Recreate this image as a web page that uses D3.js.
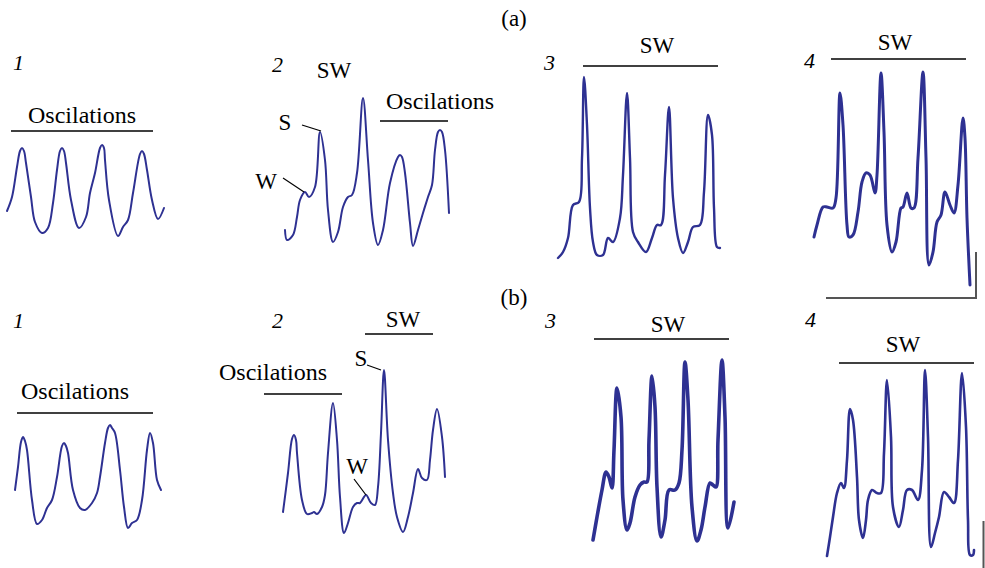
<!DOCTYPE html>
<html><head><meta charset="utf-8">
<script src="https://cdn.jsdelivr.net/npm/d3@7"></script>
<style>
body{margin:0;background:#fff}
svg{display:block}
text{font-family:"Liberation Serif","Times New Roman",serif;fill:#000}
</style>
</head><body>
<svg id="c" width="985" height="568"></svg>
<script>
// ---- Data: time (arbitrary units) and amplitude (arbitrary units) for each trace ----
const a1T=[7,12,17,20,22,24,26,31,35,42,48,53,57,60,62,64,66,71,79,86,90,95,100,102,104,105,109,118,123,128,133,140,142,144,147,152,158,164];
const a1V=[29,43,73,89,92,89,77,43,18,7,12,37,70,89,92,89,77,40,12,23,47,67,92,95,92,80,40,4,13,20,47,86,89,86,70,40,21,32];

const a2T=[5,7,13,17,20,25,29,35,40,45,48,53,58,63,68,72,77,83,88,93,98,103,110,118,120,122,125,130,133,138,143,148,152,155,158,160,162,165,169];
const a2V=[20,10,15,33,50,58,53,63,118,90,40,8,18,43,53,55,77,152,90,27,5,20,67,93,95,93,77,27,4,20,37,53,65,100,118,120,118,100,37];

const a3T=[3,8,13,18,24,27,29,32,35,38,42,48,53,58,65,68,72,75,78,83,91,97,102,106,110,114,118,123,128,133,138,145,149,153,157,159,162,165];
const a3V=[2,8,22,55,58,102,183,135,52,18,5,5,22,18,42,85,167,102,28,18,8,22,35,35,85,153,62,22,7,18,33,35,68,145,125,52,13,12];

const a4T=[4,7,13,17,23,26,30,33,37,39,43,48,52,56,60,65,67,71,74,77,82,86,91,93,97,101,104,108,113,116,119,123,127,131,135,140,144,148,153,155,157,160];
const a4V=[53,65,83,83,82,92,197,165,65,53,55,78,108,117,115,97,115,217,158,65,38,48,82,83,97,82,82,132,218,132,25,38,68,75,98,85,77,105,172,152,72,5];

const b1T=[5,8,11,13,15,17,22,27,32,37,42,47,52,54,56,58,63,70,75,82,87,90,95,98,100,102,105,110,114,118,122,127,132,137,140,143,147,151];
const b1V=[50,73,98,103,99,90,40,16,20,32,40,63,94,97,94,87,50,32,30,37,47,63,97,112,115,112,107,70,33,12,17,20,40,90,107,97,60,50];

const b2T=[3,8,12,14,16,17,22,27,32,34,37,42,45,48,53,57,60,64,68,73,77,80,86,91,95,98,101,104,108,113,117,123,128,133,138,142,147,150,153,157,162,165];
const b2V=[28,67,101,105,100,87,40,26,27,28,26,33,45,87,137,100,43,7,17,33,37,37,45,37,35,53,107,170,100,47,23,8,23,47,71,62,60,80,110,131,103,63];

const b3T=[3,7,12,16,19,22,24,27,31,33,37,40,45,50,54,57,59,62,65,67,71,75,79,85,89,92,95,98,102,107,111,115,120,123,126,128,132,135,138,144];
const b3V=[5,28,55,73,68,57,95,157,128,45,15,22,48,60,63,63,105,169,138,58,8,25,55,55,62,95,183,145,38,4,15,38,62,60,58,105,185,128,17,43];

const b4T=[2,5,8,12,16,19,22,25,28,32,34,38,41,43,47,52,56,59,62,66,68,74,78,82,87,93,97,100,103,106,110,114,119,124,129,133,137,141,143,145,148,149];
const b4V=[4,23,43,67,77,72,100,151,140,83,40,22,40,60,70,67,67,107,180,123,53,33,50,70,70,60,90,190,123,13,27,43,68,63,57,100,187,133,40,5,5,10];

const panelNumbers=["1","2","3","4"];
const groupLabels=["(a)","(b)"];

// ---- Layout ----
const svg=d3.select("#c");
const blue="#2e3192";

const traces=[
  {t:a1T,v:a1V,x0:0,  yb:240,w:2},
  {t:a2T,v:a2V,x0:280,yb:250,w:2},
  {t:a3T,v:a3V,x0:555,yb:260,w:2.4},
  {t:a4T,v:a4V,x0:810,yb:290,w:3},
  {t:b1T,v:b1V,x0:10, yb:540,w:2},
  {t:b2T,v:b2V,x0:280,yb:540,w:2},
  {t:b3T,v:b3V,x0:590,yb:545,w:3.6},
  {t:b4T,v:b4V,x0:825,yb:560,w:2.6}
];

traces.forEach(tr=>{
  const x=d3.scaleLinear().domain([0,200]).range([tr.x0,tr.x0+200]);
  const y=d3.scaleLinear().domain([0,300]).range([tr.yb,tr.yb-300]);
  const gen=d3.line().x(i=>x(tr.t[i])).y(i=>y(tr.v[i])).curve(d3.curveCatmullRom.alpha(0.5));
  svg.append("path").attr("d",gen(d3.range(tr.t.length)))
    .attr("fill","none").attr("stroke",blue).attr("stroke-width",tr.w)
    .attr("stroke-linejoin","round").attr("stroke-linecap","round");
});

// over-bars
const bars=[[11,131,153,131],[380,121,448,121],[583,66,718,66],[831,59,966,59],
            [17,413,153,413],[264,394,342,394],[365,334,433,334],[594,339,729,339],[839,363,974,363]];
bars.forEach(b=>svg.append("line").attr("x1",b[0]).attr("y1",b[1]).attr("x2",b[2]).attr("y2",b[3])
  .attr("stroke","#000").attr("stroke-width",1.5));
// pointers
const ptr=[[302,125,321,131],[283,178,304,192],[367,365,381,370],[354,479,366,495]];
ptr.forEach(b=>svg.append("line").attr("x1",b[0]).attr("y1",b[1]).attr("x2",b[2]).attr("y2",b[3])
  .attr("stroke","#000").attr("stroke-width",1.2));
// scale bars
svg.append("path").attr("d","M826,298H976V252").attr("fill","none").attr("stroke","#555").attr("stroke-width",2);
svg.append("path").attr("d","M983.5,521V568").attr("fill","none").attr("stroke","#555").attr("stroke-width",2);

// texts
const labels=[
  {s:groupLabels[0],x:514,y:26,a:"middle",f:23},
  {s:groupLabels[1],x:514,y:305,a:"middle",f:23},
  {s:panelNumbers[0],x:13,y:70,i:1},{s:panelNumbers[1],x:272,y:72,i:1},
  {s:panelNumbers[2],x:544,y:70,i:1},{s:panelNumbers[3],x:804,y:68,i:1},
  {s:panelNumbers[0],x:13,y:328,i:1},{s:panelNumbers[1],x:272,y:328,i:1},
  {s:panelNumbers[2],x:545,y:328,i:1},{s:panelNumbers[3],x:805,y:327,i:1},
  {s:"Oscilations",x:82,y:123,a:"middle",f:24},
  {s:"SW",x:334,y:78,a:"middle",f:23},{s:"S",x:285,y:130,a:"middle",f:23},{s:"W",x:266,y:189,a:"middle",f:23},
  {s:"Oscilations",x:440,y:109,a:"middle",f:24},
  {s:"SW",x:657,y:53,a:"middle",f:23},{s:"SW",x:895,y:50,a:"middle",f:23},
  {s:"Oscilations",x:75,y:399,a:"middle",f:24},
  {s:"SW",x:403,y:327,a:"middle",f:23},{s:"S",x:361,y:366,a:"middle",f:23},
  {s:"Oscilations",x:273,y:380,a:"middle",f:24},{s:"W",x:357,y:474,a:"middle",f:23},
  {s:"SW",x:668,y:332,a:"middle",f:23},{s:"SW",x:903,y:352,a:"middle",f:23}
];
labels.forEach(l=>svg.append("text").attr("x",l.x).attr("y",l.y)
  .attr("text-anchor",l.a||"start").attr("font-size",l.f||22)
  .attr("font-style",l.i?"italic":"normal").text(l.s));
</script>
</body></html>
